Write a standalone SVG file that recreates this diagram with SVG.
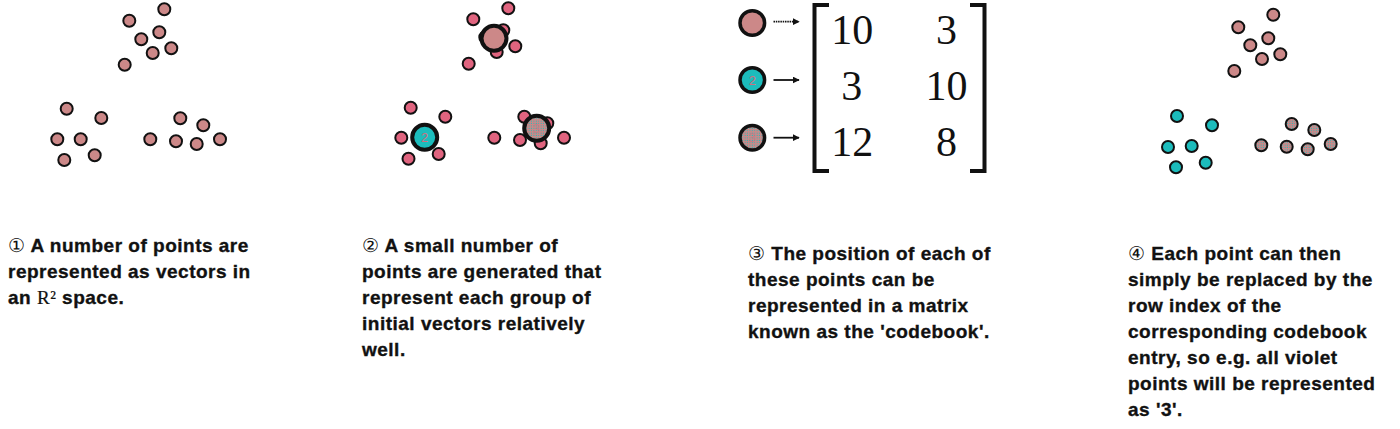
<svg xmlns="http://www.w3.org/2000/svg" width="1400" height="429" viewBox="0 0 1400 429">
<defs>
<pattern id="speck" patternUnits="userSpaceOnUse" width="2.4" height="2.4">
<rect width="2.4" height="2.4" fill="#cc8888"/>
<rect x="0.6" y="0.6" width="1" height="1" fill="#1cbcbc"/>
</pattern>
<marker id="ah" viewBox="0 0 10 10" refX="9" refY="5" markerWidth="7" markerHeight="7" markerUnits="userSpaceOnUse" orient="auto">
<path d="M0,0 L10,5 L0,10 z" fill="#111"/>
</marker>
</defs>
<style>
.d{fill:#cc8888;stroke:#111;stroke-width:2}
.p{fill:#e0647f;stroke:#111;stroke-width:2}
.t{fill:#1cbcbc;stroke:#111;stroke-width:2}
.s{fill:url(#speck);stroke:#111;stroke-width:2}
.big{stroke:#111;stroke-width:4}
.mid{stroke:#111;stroke-width:3.5}
.lbl{font-family:"Liberation Sans",Arial,sans-serif;font-weight:bold;font-size:19px;letter-spacing:0.5px;fill:#111;stroke:#111;stroke-width:0.35}
.cd{stroke:none;font-weight:normal}
.num{font-family:"Liberation Serif","Times New Roman",serif;font-size:42px;fill:#111;text-anchor:middle}
.idx{font-family:"Liberation Sans",Arial,sans-serif;font-size:13px;fill:#cc6f80;text-anchor:middle}
.br{fill:none;stroke:#111;stroke-width:4}
.ar{stroke:#111;stroke-width:1.8;fill:none}
</style>
<rect width="1400" height="429" fill="#fff"/>

<g id="panel1">
<circle class="d" cx="164.3" cy="9.3" r="6"/>
<circle class="d" cx="129.3" cy="20.7" r="6"/>
<circle class="d" cx="159.3" cy="32.3" r="6"/>
<circle class="d" cx="141.3" cy="39.3" r="6"/>
<circle class="d" cx="171.3" cy="48.3" r="6"/>
<circle class="d" cx="152.7" cy="53" r="6"/>
<circle class="d" cx="124.7" cy="64.7" r="6"/>
<circle class="d" cx="66.7" cy="108.7" r="6"/>
<circle class="d" cx="101.3" cy="118" r="6"/>
<circle class="d" cx="57.3" cy="139.3" r="6"/>
<circle class="d" cx="80.7" cy="139.3" r="6"/>
<circle class="d" cx="94.7" cy="155.3" r="6"/>
<circle class="d" cx="64.3" cy="160" r="6"/>
<circle class="d" cx="150.3" cy="139.3" r="6"/>
<circle class="d" cx="180.3" cy="118.3" r="6"/>
<circle class="d" cx="203.3" cy="125.3" r="6"/>
<circle class="d" cx="176" cy="141.3" r="6"/>
<circle class="d" cx="196.7" cy="144" r="6"/>
<circle class="d" cx="220" cy="139.3" r="6"/>
<text class="lbl" x="8" y="252"><tspan class="cd">①</tspan> A number of points are</text>
<text class="lbl" x="8" y="278">represented as vectors in</text>
<text class="lbl" x="8" y="304">an <tspan font-family="Liberation Serif, serif" font-weight="normal" stroke-width="0.2">R²</tspan> space.</text>
</g>

<g id="panel2">
<circle class="p" cx="508.3" cy="8.3" r="6"/>
<circle class="p" cx="473.3" cy="19.3" r="6"/>
<circle class="p" cx="503.3" cy="30.3" r="6"/>
<circle class="p" cx="485.3" cy="37.3" r="6"/>
<circle class="p" cx="515.3" cy="46.3" r="6"/>
<circle class="p" cx="496.7" cy="52" r="6"/>
<circle class="p" cx="468.7" cy="63.7" r="6"/>
<circle class="d big" cx="494" cy="38.3" r="12.5"/>
<circle class="p" cx="410.7" cy="107.7" r="6"/>
<circle class="p" cx="445.3" cy="116.7" r="6"/>
<circle class="p" cx="401.3" cy="137.7" r="6"/>
<circle class="p" cx="438.7" cy="154" r="6"/>
<circle class="p" cx="408.5" cy="158.7" r="6"/>
<circle class="t big" cx="424.7" cy="137.3" r="12.5"/>
<text class="idx" x="424.7" y="142">2</text>
<circle class="p" cx="494.3" cy="137.7" r="6"/>
<circle class="p" cx="524.3" cy="116.7" r="6"/>
<circle class="p" cx="547.3" cy="123.3" r="6"/>
<circle class="p" cx="520" cy="140" r="6"/>
<circle class="p" cx="540.7" cy="143.3" r="6"/>
<circle class="p" cx="564" cy="137.7" r="6"/>
<circle class="s big" cx="536.7" cy="128.3" r="12.5"/>
<text class="idx" x="536.7" y="133" opacity="0.5">3</text>
<text class="lbl" x="362" y="252"><tspan class="cd">②</tspan> A small number of</text>
<text class="lbl" x="362" y="278">points are generated that</text>
<text class="lbl" x="362" y="304">represent each group of</text>
<text class="lbl" x="362" y="330">initial vectors relatively</text>
<text class="lbl" x="362" y="356">well.</text>
</g>

<g id="panel3">
<circle class="d mid" cx="752.3" cy="23" r="12.3"/>
<circle class="t mid" cx="752.3" cy="80" r="12.3"/>
<text class="idx" x="752.3" y="84.5" font-size="12">2</text>
<circle class="s mid" cx="752.3" cy="137.7" r="12.3"/>
<text class="idx" x="752.3" y="142" font-size="12" opacity="0.5">3</text>
<path class="br" d="M829,5 H814.5 V171 H829"/>
<path class="br" d="M970,5 H984.5 V171 H970"/>
<text class="num" x="852.3" y="43.5">10</text>
<text class="num" x="946.5" y="43.5">3</text>
<text class="num" x="851.7" y="100">3</text>
<text class="num" x="946.5" y="100">10</text>
<text class="num" x="852.3" y="156">12</text>
<text class="num" x="946.5" y="156">8</text>
<text class="lbl" x="748" y="260"><tspan class="cd">③</tspan> The position of each of</text>
<text class="lbl" x="748" y="286">these points can be</text>
<text class="lbl" x="748" y="312">represented in a matrix</text>
<text class="lbl" x="748" y="338">known as the 'codebook'.</text>
</g>

<g id="panel4">
<circle class="d" cx="1273.3" cy="14.7" r="6"/>
<circle class="d" cx="1238.3" cy="27.3" r="6"/>
<circle class="d" cx="1268.3" cy="38.3" r="6"/>
<circle class="d" cx="1250.3" cy="45.3" r="6"/>
<circle class="d" cx="1280.3" cy="54.3" r="6"/>
<circle class="d" cx="1262" cy="59" r="6"/>
<circle class="d" cx="1234.3" cy="71" r="6"/>
<circle class="t" cx="1177" cy="116" r="6"/>
<circle class="t" cx="1212" cy="125.3" r="6"/>
<circle class="t" cx="1168" cy="147" r="6"/>
<circle class="t" cx="1191.7" cy="146" r="6"/>
<circle class="t" cx="1205.7" cy="162.7" r="6"/>
<circle class="t" cx="1176" cy="167.3" r="6"/>
<circle class="s" cx="1261.3" cy="145.3" r="6"/>
<circle class="s" cx="1291.7" cy="124" r="6"/>
<circle class="s" cx="1314.3" cy="130" r="6"/>
<circle class="s" cx="1286.7" cy="146.7" r="6"/>
<circle class="s" cx="1307.7" cy="149.3" r="6"/>
<circle class="s" cx="1330.7" cy="144" r="6"/>
<text class="lbl" x="1128" y="260"><tspan class="cd">④</tspan> Each point can then</text>
<text class="lbl" x="1128" y="286">simply be replaced by the</text>
<text class="lbl" x="1128" y="312">row index of the</text>
<text class="lbl" x="1128" y="338">corresponding codebook</text>
<text class="lbl" x="1128" y="364">entry, so e.g. all violet</text>
<text class="lbl" x="1128" y="390">points will be represented</text>
<text class="lbl" x="1128" y="416">as '3'.</text>
</g>

<g id="connectors">
<line class="ar" x1="773.5" y1="21.7" x2="799" y2="21.7" stroke-dasharray="1.5 0.8" marker-end="url(#ah)"/>
<line class="ar" x1="773.5" y1="80" x2="799" y2="80" marker-end="url(#ah)"/>
<line class="ar" x1="773.5" y1="137.7" x2="799" y2="137.7" marker-end="url(#ah)"/>
</g>
</svg>
